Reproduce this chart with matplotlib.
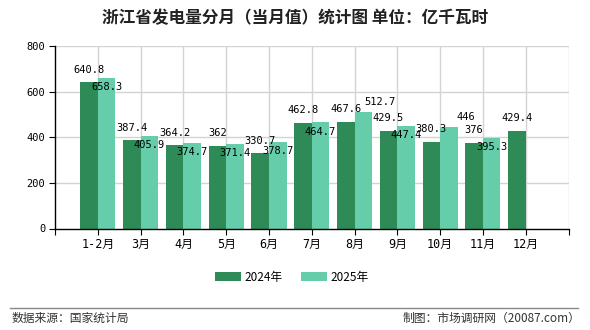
import matplotlib
matplotlib.use("Agg")
import matplotlib.pyplot as plt
import numpy as np

# 浙江省发电量分月（当月值），亿千瓦时
months = ["1-2月", "3月", "4月", "5月", "6月", "7月", "8月", "9月", "10月", "11月", "12月"]
gen_2024 = [640.8, 387.4, 364.2, 362, 330.7, 462.8, 467.6, 429.5, 380.3, 376, 429.4]
gen_2025 = [658.3, 405.9, 374.7, 371.4, 378.7, 464.7, 512.7, 447.4, 446, 395.3]

dark = "#2e8b57"
light = "#66cdaa"
cjk = ["Noto Sans CJK SC", "DejaVu Sans"]
mono = ["DejaVu Sans Mono", "Noto Sans CJK SC"]

fig = plt.figure(figsize=(5.9, 3.3), dpi=100)
ax = fig.add_axes([55 / 590, 1 - 228.5 / 330, 513.5 / 590, 182.5 / 330])

x = np.arange(1, len(months) + 1)
w = 0.41
ax.bar(x[:len(gen_2024)] - w / 2, gen_2024, w, color=dark, label="2024年", zorder=2)
ax.bar(x[:len(gen_2025)] + w / 2, gen_2025, w, color=light, label="2025年", zorder=2)

# data labels
for xi, v in zip(x, gen_2024):
    ax.annotate(f"{v:g}", (xi - w / 2, v), xytext=(0, 9), textcoords="offset points",
                ha="center", va="center", fontsize=7.5, family=mono, zorder=4)
for i, (xi, v) in enumerate(zip(x, gen_2025)):
    nxt = gen_2024[i + 1] if i + 1 < len(gen_2024) else 0
    if v - gen_2024[i] > 40 and nxt < v:
        # would bump into next month's label: put it above, nudged right
        off = (12, 7)
    else:
        off = (0, -6.5)
    ax.annotate(f"{v:g}", (xi + w / 2, v), xytext=off, textcoords="offset points",
                ha="center", va="center", fontsize=7.5, family=mono, zorder=4)

ax.set_xlim(0, 12)
ax.set_ylim(0, 800)
ax.set_yticks([0, 200, 400, 600, 800])
ax.set_xticks(np.arange(0, 13))
ax.set_xticklabels([""] + months + [""], family=mono, fontsize=8.5)
for t in ax.get_yticklabels():
    t.set_family(mono)
    t.set_fontsize(7.5)
ax.tick_params(axis="both", length=4, width=0.8, color="black", pad=3)

for yv in [200, 400, 600, 800]:
    ax.axhline(yv, color="#d3d3d3", lw=1, zorder=0)
for xv in range(1, 13):
    ax.axvline(xv, color="#d3d3d3", lw=1, zorder=0)

for s in ["top", "right"]:
    ax.spines[s].set_visible(False)
ax.spines["left"].set_linewidth(1)
ax.spines["bottom"].set_linewidth(1)

fig.text(0.5, 1 - 18 / 330, "浙江省发电量分月（当月值）统计图 单位：亿千瓦时", ha="center", va="center",
         fontsize=12, family=cjk, fontweight="bold", color="#222222")

ax.legend(loc="center", bbox_to_anchor=(292 / 590, 1 - 277 / 330), bbox_transform=fig.transFigure,
          ncol=2, frameon=False, prop={"family": cjk, "size": 8.5},
          handlelength=2.2, handleheight=0.9, columnspacing=1.6, handletextpad=0.3)

fig.add_artist(plt.Line2D([10 / 590, 578 / 590], [1 - 308 / 330] * 2, color="#888888", lw=1,
                          transform=fig.transFigure))
fig.text(12 / 590, 1 - 318 / 330, "数据来源：国家统计局", ha="left", va="center",
         fontsize=8.5, family=cjk, color="#333333")
fig.text(580 / 590, 1 - 318 / 330, "制图：市场调研网（20087.com）", ha="right", va="center",
         fontsize=8.5, family=cjk, color="#333333")

fig.savefig("out.png", dpi=100)
